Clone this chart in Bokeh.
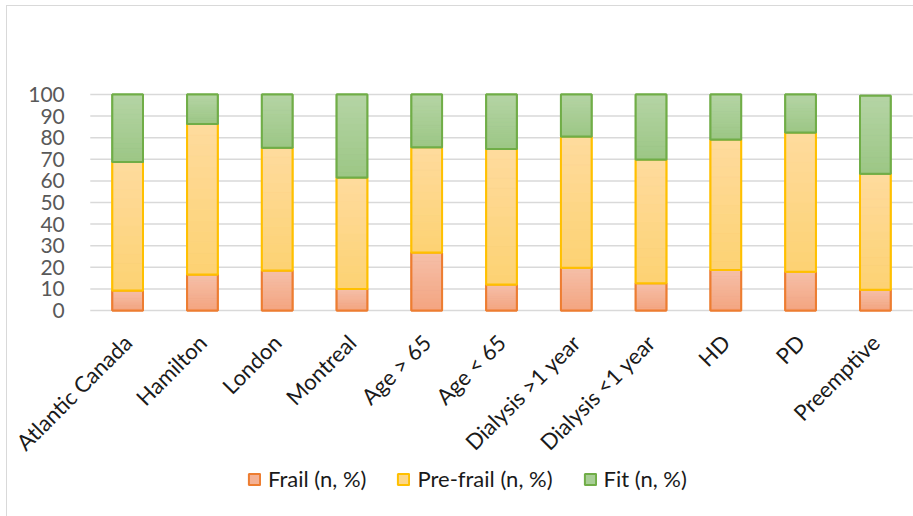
import math
from bokeh.plotting import figure
from bokeh.models import FactorRange, Legend, LegendItem, Range1d, FixedTicker
from bokeh.embed import file_html
from bokeh.resources import INLINE

categories = ["Atlantic Canada", "Hamilton", "London", "Montreal", "Age > 65", "Age < 65",
              "Dialysis >1 year", "Dialysis <1 year", "HD", "PD", "Preemptive"]
frail = [9.3, 16.7, 18.5, 9.9, 26.9, 12.0, 19.8, 12.6, 18.8, 17.9, 9.6]
prefrail = [59.4, 69.7, 56.8, 51.7, 48.7, 62.8, 60.8, 57.3, 60.4, 64.5, 53.7]
fit = [31.3, 13.6, 24.7, 38.4, 24.4, 25.2, 19.4, 30.1, 20.8, 17.6, 36.1]
y_ticks = [0, 10, 20, 30, 40, 50, 60, 70, 80, 90, 100]

series_names = ["Frail (n, %)", "Pre-frail (n, %)", "Fit (n, %)"]
series_values = [frail, prefrail, fit]
line_colors = ["#ed7d31", "#ffc000", "#70ad47"]
top_colors = ["#f5c0aa", "#fedb9e", "#b5d4a5"]
bottom_colors = ["#f4a47f", "#fdd272", "#9cc785"]
mid_colors = ["#f4b194", "#fdd788", "#a8ce96"]

FONT = "Lato"
BAR_W = 0.41
N_BANDS = 14

# layout: each category is 74.8 px wide; value 100 sits 216 px above value 0.
CAT_PX = 74.8
X_PAD = 1.0                      # extra category-width of frame on each side (room for slanted labels)
TOP_PAD_PX = 14                  # room above 100 so its label is not clipped
FRAME_H = 436
PX_PER_UNIT = 2.16
y_end = 100 + TOP_PAD_PX / PX_PER_UNIT
y_start = y_end - FRAME_H / PX_PER_UNIT
YAXIS_AT = -0.662                # synthetic x of the value axis (labels right-aligned near the bars)


def hex_to_rgb(h):
    h = h.lstrip("#")
    return tuple(int(h[i:i + 2], 16) for i in (0, 2, 4))


def mix(c1, c2, t):
    a, b = hex_to_rgb(c1), hex_to_rgb(c2)
    return "#%02x%02x%02x" % tuple(round(a[i] + (b[i] - a[i]) * t) for i in range(3))


n = len(categories)
p = figure(x_range=FactorRange(*categories, range_padding=X_PAD, range_padding_units="absolute"),
           y_range=Range1d(y_start, y_end),
           frame_width=round(CAT_PX * (n + 2 * X_PAD)), frame_height=FRAME_H,
           output_backend="svg", toolbar_location=None,
           min_border_left=8, min_border_right=0, min_border_top=88 - TOP_PAD_PX,
           min_border_bottom=0)
p.margin = (5, 0, 0, 6)
p.styles = {"border-left": "1px solid #d9d9d9", "border-top": "1px solid #d9d9d9"}
p.outline_line_color = None
p.background_fill_color = "white"
p.border_fill_color = "white"

p.xgrid.grid_line_color = None
p.ygrid.grid_line_color = None
# value gridlines spanning only the category area
p.segment(x0=[0] * len(y_ticks), x1=[n] * len(y_ticks), y0=y_ticks, y1=y_ticks,
          line_color="#d9d9d9", line_width=1.5)

p.yaxis.ticker = FixedTicker(ticks=y_ticks)
p.yaxis.fixed_location = YAXIS_AT
p.yaxis.axis_line_color = None
p.yaxis.major_tick_line_color = None
p.yaxis.minor_tick_line_color = None
p.yaxis.major_label_text_font = FONT
p.yaxis.major_label_text_font_size = "21px"
p.yaxis.major_label_text_color = "#595959"
p.yaxis.major_label_standoff = -30

p.xaxis.fixed_location = 0
p.xaxis.axis_line_color = None
p.xaxis.major_tick_line_color = None
p.xaxis.minor_tick_line_color = None
p.xaxis.major_label_orientation = math.pi / 4
p.xaxis.major_label_text_font = FONT
p.xaxis.major_label_text_font_size = "22px"
p.xaxis.major_label_text_color = "#1a1a1a"
p.xaxis.major_label_standoff = 22

bottoms = [0.0] * n
legend_items = []
for name, vals, lc, tc, bc, mc in zip(series_names, series_values, line_colors,
                                      top_colors, bottom_colors, mid_colors):
    tops = [b + v for b, v in zip(bottoms, vals)]
    base = p.vbar(x=categories, bottom=bottoms, top=tops, width=BAR_W,
                  fill_color=mc, line_color=lc, line_width=2)
    legend_items.append(LegendItem(label=name, renderers=[base]))
    for i in range(N_BANDS):
        f0, f1 = i / N_BANDS, (i + 1) / N_BANDS
        c = mix(bc, tc, (i + 0.5) / N_BANDS)
        p.vbar(x=categories,
               bottom=[b + v * f0 for b, v in zip(bottoms, vals)],
               top=[b + v * f1 for b, v in zip(bottoms, vals)],
               width=BAR_W, fill_color=c, line_color=c, line_width=0.6)
    p.vbar(x=categories, bottom=bottoms, top=tops, width=BAR_W,
           fill_color=None, line_color=lc, line_width=2)
    bottoms = tops

legend = Legend(items=legend_items, orientation="horizontal", location=(232, 24),
                label_text_font=FONT, label_text_font_size="22px", label_text_color="#1a1a1a",
                glyph_width=14, glyph_height=14, label_standoff=7, spacing=30,
                border_line_color=None, background_fill_alpha=0, margin=0, padding=4)
p.add_layout(legend, "center")

open("out.html", "w").write(file_html(p, INLINE))
